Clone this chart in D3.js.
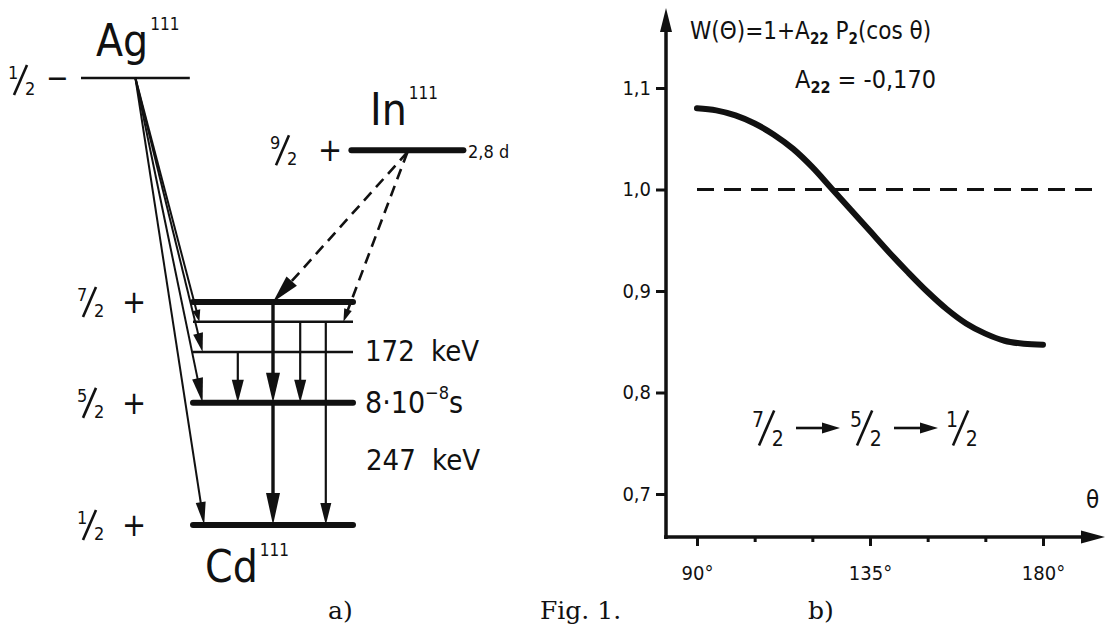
<!DOCTYPE html>
<html>
<head>
<meta charset="utf-8">
<script src="https://cdn.jsdelivr.net/npm/d3@7"></script>
<style>
    body { margin: 0; background: #fff; }
    text { font-family: "DejaVu Sans", sans-serif; font-stretch: condensed; fill: #111; }
    text.serif { font-family: "DejaVu Serif", serif; font-stretch: normal; }
</style>
</head>
<body>
<div class="chart"></div>
<script>
// ---------- data ----------
// a) level scheme of Cd111 (heights as drawn, in keV)
var levelSpin = ["1/2", "5/2", "", "", "7/2"];
var levelParity = ["+", "+", "", "", "+"];
var levelHeight = [0, 247, 350, 411, 451];

var parentName = ["Ag", "In"];
var parentSpin = ["1/2", "9/2"];
var parentParity = ["−", "+"];
var parentHeight = [904, 758];
var parentHalfLife = ["", "2,8 d"];

// gamma transitions inside Cd111 (level index from -> to)
var gammaFrom = [2, 4, 1, 3, 3];
var gammaTo = [1, 1, 0, 1, 0];
// beta feeding from Ag111 and EC feeding from In111
var agFeedTo = [0, 1, 2, 3];
var inFeedTo = [4, 3];

var energyLabels = ["172 keV", "247 keV"];
var isomerLife = ["8·10", "−8", "s"];

// b) angular correlation 7/2 -> 5/2 -> 1/2
var thetaDeg = [90, 95, 100, 105, 110, 115, 120, 125, 130, 135, 140, 145, 150, 155, 160, 165, 170, 175, 180];
var wValues = [1.080, 1.078, 1.073, 1.065, 1.054, 1.040, 1.022, 1.001, 0.980, 0.959, 0.938, 0.918,
    0.899, 0.882, 0.868, 0.858, 0.851, 0.848, 0.847];
var yTicks = [0.7, 0.8, 0.9, 1.0, 1.1];
var xMajor = [90, 135, 180];
var xMinor = [105, 120, 150, 165];
var a22 = "-0,170";
var cascade = ["7/2", "5/2", "1/2"];

// ---------- layout ----------
var width = 1108, height = 627;
var svg = d3.select(".chart").append("svg")
    .attr("width", width)
    .attr("height", height);

// left panel scales: x in units across the Cd levels, y in keV as drawn
var xL = d3.scaleLinear().domain([0, 100]).range([193, 353]);
var yL = d3.scaleLinear().domain([0, 451]).range([525, 302]);

// column of each transition (layout only)
var gammaCol = [28, 50, 50, 67, 83];
var agFeedCol = [7, 6, 6, 4];
var agHead = [[23, 5], [25, 5.5], [19, 5], [12, 4]];
var gammaHead = [[23, 6], [30, 7], [32, 7], [23, 6], [22, 5.5]];

function arrow(g, x1, y1, x2, y2, len, hw, sw, dash) {
    var dx = x2 - x1, dy = y2 - y1, L = Math.sqrt(dx * dx + dy * dy);
    var ux = dx / L, uy = dy / L;
    var bx = x2 - ux * len, by = y2 - uy * len;
    g.append("line")
        .attr("x1", x1).attr("y1", y1)
        .attr("x2", bx + ux * 2).attr("y2", by + uy * 2)
        .attr("stroke", "#111")
        .attr("stroke-width", sw)
        .attr("stroke-dasharray", dash || null);
    g.append("path")
        .attr("d", "M" + x2 + "," + y2 +
            "L" + (bx - uy * hw) + "," + (by + ux * hw) +
            "L" + (bx + uy * hw) + "," + (by - ux * hw) + "Z")
        .attr("fill", "#111");
}

// spin fraction like 7/2 drawn as small numerator, slash, denominator
function fraction(g, x, cy, s, size) {
    var p = s.split("/");
    var fs = size || 18;
    var k = fs / 18;
    g.append("text").attr("x", x).attr("y", cy - 1 * k).attr("font-size", fs).text(p[0]);
    g.append("path")
        .attr("d", "M" + (x + 6 * k) + "," + (cy + 15 * k) + "L" + (x + 19 * k) + "," + (cy - 15 * k))
        .attr("stroke", "#111").attr("stroke-width", 2.6).attr("fill", "none");
    g.append("text").attr("x", x + 17 * k).attr("y", cy + 15 * k).attr("font-size", fs).text(p[1]);
}

// ---------- a) level scheme ----------
var gL = svg.append("g");

// daughter levels
levelHeight.forEach(function (e, i) {
    var heavy = levelSpin[i] !== "";
    gL.append("line")
        .attr("x1", xL(0)).attr("x2", xL(100))
        .attr("y1", yL(e)).attr("y2", yL(e))
        .attr("stroke", "#111")
        .attr("stroke-width", heavy ? 6 : 2.6)
        .attr("stroke-linecap", heavy ? "round" : "butt");
    if (heavy) {
        fraction(gL, 77, yL(e), levelSpin[i]);
        gL.append("text").attr("x", 122).attr("y", yL(e) + 11)
            .attr("font-size", 32).text(levelParity[i]);
    }
});

// parent levels
var parentX = [[-70, -2, -36], [99, 169, 134]];
parentHeight.forEach(function (e, i) {
    var y = yL(e);
    gL.append("line")
        .attr("x1", xL(parentX[i][0])).attr("x2", xL(parentX[i][1]))
        .attr("y1", y).attr("y2", y)
        .attr("stroke", "#111")
        .attr("stroke-width", i == 0 ? 2.4 : 6)
        .attr("stroke-linecap", i == 0 ? "butt" : "round");
});
fraction(gL, 8, yL(parentHeight[0]) + 2, parentSpin[0]);
gL.append("text").attr("x", 46).attr("y", yL(parentHeight[0]) + 10).attr("font-size", 30).text(parentParity[0]);
fraction(gL, 270, yL(parentHeight[1]), parentSpin[1]);
gL.append("text").attr("x", 318).attr("y", yL(parentHeight[1]) + 11).attr("font-size", 32).text(parentParity[1]);
gL.append("text").attr("x", 468).attr("y", yL(parentHeight[1]) + 8).attr("font-size", 18).text(parentHalfLife[1]);

// nuclide names
function nuclide(x, y, name) {
    var t = gL.append("text").attr("x", x).attr("y", y).attr("font-size", 44);
    t.append("tspan").text(name);
    t.append("tspan").attr("font-size", 17).attr("dy", -26).attr("dx", 2).text("111");
}
nuclide(96, 56, parentName[0]);
nuclide(370, 125, parentName[1]);
nuclide(205, 582, "Cd");

// beta feeding from Ag
var agX = xL(parentX[0][2]), agY = yL(parentHeight[0]);
agFeedTo.forEach(function (lv, i) {
    arrow(gL, agX, agY, xL(agFeedCol[i]), yL(levelHeight[lv]), agHead[i][0], agHead[i][1], 2);
});

// EC feeding from In (dashed)
var inX = xL(parentX[1][2]), inY = yL(parentHeight[1]) + 2;
arrow(gL, inX, inY, xL(50), yL(levelHeight[inFeedTo[0]]), 28, 7, 2.6, "11,7");
arrow(gL, inX, inY, xL(94), yL(levelHeight[inFeedTo[1]]), 13, 4, 2.6, "11,7");

// gamma transitions
gammaFrom.forEach(function (f, i) {
    var big = gammaCol[i] == 50;
    arrow(gL, xL(gammaCol[i]), yL(levelHeight[f]), xL(gammaCol[i]), yL(levelHeight[gammaTo[i]]),
        gammaHead[i][0], gammaHead[i][1], big ? 3.4 : 2.2);
});

// energy labels
gL.append("text").attr("x", 365).attr("y", yL(levelHeight[2]) + 9).attr("font-size", 29)
    .attr("word-spacing", 8).text(energyLabels[0]);
var tl = gL.append("text").attr("x", 365).attr("y", yL(levelHeight[1]) + 10).attr("font-size", 30);
tl.append("tspan").text(isomerLife[0]);
tl.append("tspan").attr("font-size", 18).attr("dy", -14).text(isomerLife[1]);
tl.append("tspan").attr("dy", 14).text(isomerLife[2]);
gL.append("text").attr("x", 366).attr("y", 470).attr("font-size", 29)
    .attr("word-spacing", 8).text(energyLabels[1]);

// ---------- b) angular correlation ----------
var gR = svg.append("g");
var xR = d3.scaleLinear().domain([90, 180]).range([697, 1043]);
var yR = d3.scaleLinear().domain([0.7, 1.1]).range([494, 88]);
var axX = 666, axY = 537;

// axes lines with arrows
arrow(gR, axX, axY + 2, axX, 8, 24, 6, 3.5);
arrow(gR, axX - 2, axY, 1105, axY, 24, 6.5, 3.5);

var yAxis = d3.axisLeft(yR)
    .tickValues(yTicks)
    .tickSize(10)
    .tickPadding(5)
    .tickFormat(function (d) { return d.toFixed(1).replace(".", ","); });
var gy = gR.append("g").attr("transform", "translate(" + axX + ",0)").call(yAxis);

var xAxis = d3.axisBottom(xR)
    .tickValues(xMajor)
    .tickSize(9)
    .tickPadding(20)
    .tickFormat(function (d) { return d + "°"; });
var gx = gR.append("g").attr("transform", "translate(0," + axY + ")").call(xAxis);

var xAxisMinor = d3.axisBottom(xR)
    .tickValues(xMinor)
    .tickSize(5)
    .tickFormat("");
var gxm = gR.append("g").attr("transform", "translate(0," + axY + ")").call(xAxisMinor);

[gy, gx, gxm].forEach(function (g) {
    g.attr("font-size", null).attr("font-family", null);
    g.select(".domain").remove();
    g.selectAll(".tick line").attr("stroke", "#111").attr("stroke-width", 3);
    g.selectAll(".tick text")
        .attr("fill", "#111")
        .style("font-size", "20px");
});

// reference line W = 1
gR.append("line")
    .attr("x1", xR(90)).attr("x2", 1100)
    .attr("y1", yR(1.0)).attr("y2", yR(1.0))
    .attr("stroke", "#111")
    .attr("stroke-width", 3)
    .attr("stroke-dasharray", "17,10");

// W(theta) curve
var line = d3.line()
    .x(function (d, i) { return xR(thetaDeg[i]); })
    .y(function (d) { return yR(d); })
    .curve(d3.curveMonotoneX);
gR.append("path")
    .attr("d", line(wValues))
    .attr("fill", "none")
    .attr("stroke", "#111")
    .attr("stroke-width", 6)
    .attr("stroke-linecap", "round");

// formula
var f1 = gR.append("text").attr("x", 690).attr("y", 39).attr("font-size", 24);
f1.append("tspan").text("W(Θ)=1+A");
f1.append("tspan").attr("font-size", 15).attr("dy", 5).attr("font-weight", "bold").text("22");
f1.append("tspan").attr("dy", -5).text(" P");
f1.append("tspan").attr("font-size", 15).attr("dy", 5).attr("font-weight", "bold").text("2");
f1.append("tspan").attr("dy", -5).text("(cos θ)");

var f2 = gR.append("text").attr("x", 795).attr("y", 88).attr("font-size", 25);
f2.append("tspan").text("A");
f2.append("tspan").attr("font-size", 16).attr("dy", 5).attr("font-weight", "bold").text("22");
f2.append("tspan").attr("dy", -5).text(" = " + a22);

// cascade label
var cx = [752, 850, 946];
cascade.forEach(function (s, i) {
    fraction(gR, cx[i], 428, s, 21);
    if (i < cascade.length - 1) arrow(gR, cx[i] + 44, 428, cx[i] + 88, 428, 18, 5.5, 2.6);
});

gR.append("text").attr("x", 1086).attr("y", 508).attr("font-size", 24).text("θ");

// ---------- captions ----------
svg.append("text").attr("class", "serif").attr("x", 328).attr("y", 619).attr("font-size", 25).text("a)");
svg.append("text").attr("class", "serif").attr("x", 540).attr("y", 619).attr("font-size", 25).text("Fig. 1.");
svg.append("text").attr("class", "serif").attr("x", 808).attr("y", 619).attr("font-size", 25).text("b)");
</script>
</body>
</html>
